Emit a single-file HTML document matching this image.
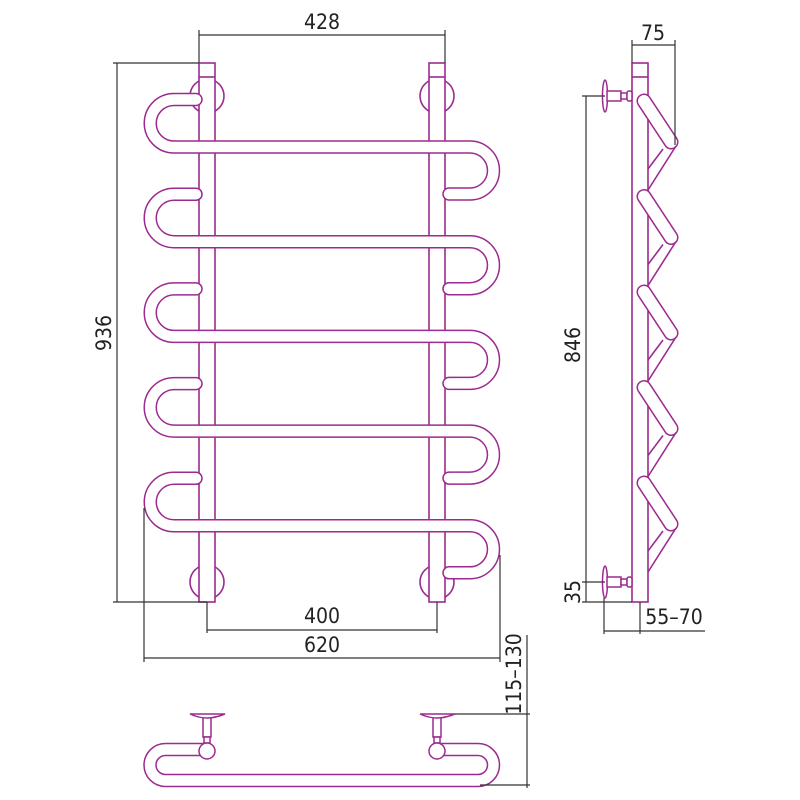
<!DOCTYPE html>
<html><head><meta charset="utf-8"><style>
html,body{margin:0;padding:0;background:#fff;}
svg{display:block;}
text{font-family:"DejaVu Sans Condensed","Liberation Sans",sans-serif;font-size:21px;fill:#222;}
</style></head><body>
<svg width="800" height="800" viewBox="0 0 800 800" xmlns="http://www.w3.org/2000/svg">
<defs>
<g id="loop">
<path d="M196 99.5 H174 A23.75 23.75 0 0 0 174 147 H470 A23.5 23.5 0 0 1 470 194 H449" />
</g>
</defs>
<g fill="none" stroke="#9c2a8f" stroke-width="1.6">
<circle cx="207" cy="96" r="17" fill="#fff"/>
<circle cx="437" cy="96" r="17" fill="#fff"/>
<circle cx="207" cy="582" r="17" fill="#fff"/>
<circle cx="437" cy="582" r="17" fill="#fff"/>
<rect x="199" y="63" width="16" height="539" fill="#fff"/>
<rect x="429" y="63" width="16" height="539" fill="#fff"/>
<line x1="199" y1="77" x2="215" y2="77"/>
<line x1="429" y1="77" x2="445" y2="77"/>
</g>
<g fill="none" stroke-linecap="round" stroke-linejoin="round">
<g stroke="#9c2a8f" stroke-width="13.5">
<use href="#loop"/>
<use href="#loop" transform="translate(0,94.7)"/>
<use href="#loop" transform="translate(0,189.4)"/>
<use href="#loop" transform="translate(0,284.1)"/>
<use href="#loop" transform="translate(0,378.8)"/>
</g>
<g stroke="#fff" stroke-width="10.5">
<use href="#loop"/>
<use href="#loop" transform="translate(0,94.7)"/>
<use href="#loop" transform="translate(0,189.4)"/>
<use href="#loop" transform="translate(0,284.1)"/>
<use href="#loop" transform="translate(0,378.8)"/>
</g>
</g>

<g fill="none" stroke="#9c2a8f" stroke-width="1.6">
<rect x="632" y="63" width="16" height="539" fill="#fff"/>
<line x1="632" y1="77" x2="648" y2="77"/>
</g>
<g id="zig" fill="none">
<line x1="644" y1="101" x2="671" y2="142" stroke="#9c2a8f" stroke-width="15" stroke-linecap="round"/>
<line x1="644" y1="101" x2="671" y2="142" stroke="#fff" stroke-width="12" stroke-linecap="round"/>
<line x1="676" y1="146" x2="648" y2="190" stroke="#9c2a8f" stroke-width="1.6"/>
<line x1="663" y1="149" x2="648" y2="169" stroke="#9c2a8f" stroke-width="1.6"/>
</g>
<use href="#zig" transform="translate(0,95.5)"/>
<use href="#zig" transform="translate(0,191)"/>
<use href="#zig" transform="translate(0,286.5)"/>
<use href="#zig" transform="translate(0,382)"/>
<g fill="#fff" stroke="#9c2a8f" stroke-width="1.5">
<ellipse cx="605" cy="96" rx="2.5" ry="16"/>
<rect x="607" y="91" width="14" height="10"/>
<rect x="621" y="93" width="6" height="6"/>
<rect x="627" y="91" width="5" height="10" rx="2"/>
<ellipse cx="605" cy="582" rx="2.5" ry="16"/>
<rect x="607" y="577" width="14" height="10"/>
<rect x="621" y="579" width="6" height="6"/>
<rect x="627" y="577" width="5" height="10" rx="2"/>
</g>

<g fill="none" stroke-linecap="round">
<path d="M207 749.5 H165.5 A15.5 15.5 0 0 0 165.5 780.5 H478 A15.5 15.5 0 0 0 478 749.5 H437" stroke="#9c2a8f" stroke-width="13.5"/>
<path d="M207 749.5 H165.5 A15.5 15.5 0 0 0 165.5 780.5 H478 A15.5 15.5 0 0 0 478 749.5 H437" stroke="#fff" stroke-width="10.5"/>
</g>
<g fill="#fff" stroke="#9c2a8f" stroke-width="1.5">
<rect x="203" y="717" width="8" height="20"/>
<rect x="204" y="737" width="6" height="6"/>
<circle cx="207" cy="751" r="8"/>
<path d="M190 714 H225 Q215 718 207 718 Q199 718 190 714Z"/>
<rect x="433" y="717" width="8" height="20"/>
<rect x="434" y="737" width="6" height="6"/>
<circle cx="437" cy="751" r="8"/>
<path d="M420 714 H455 Q445 718 437 718 Q429 718 420 714Z"/>
</g>

<g stroke="#333" stroke-width="1.2" fill="none">
<line x1="199" y1="30" x2="199" y2="63"/>
<line x1="445" y1="30" x2="445" y2="63"/>
<line x1="199" y1="35" x2="445" y2="35"/>
<line x1="113" y1="63" x2="199" y2="63"/>
<line x1="113" y1="602" x2="207" y2="602"/>
<line x1="117" y1="63" x2="117" y2="602"/>
<line x1="207" y1="602" x2="207" y2="633"/>
<line x1="437" y1="602" x2="437" y2="633"/>
<line x1="207" y1="630" x2="437" y2="630"/>
<line x1="144" y1="508" x2="144" y2="662"/>
<line x1="500" y1="555" x2="500" y2="662"/>
<line x1="144" y1="658" x2="500" y2="658"/>
<line x1="527" y1="635" x2="527" y2="788"/>
<line x1="455" y1="714" x2="530" y2="714"/>
<line x1="480" y1="785" x2="530" y2="785"/>
<line x1="632" y1="40" x2="632" y2="63"/>
<line x1="675" y1="40" x2="675" y2="145"/>
<line x1="632" y1="45" x2="675" y2="45"/>
<line x1="582" y1="96" x2="605" y2="96"/>
<line x1="586" y1="96" x2="586" y2="602"/>
<line x1="582" y1="582" x2="605" y2="582"/>
<line x1="582" y1="602" x2="632" y2="602"/>
<line x1="604" y1="598" x2="604" y2="634"/>
<line x1="640" y1="602" x2="640" y2="634"/>
<line x1="604" y1="631" x2="705" y2="631"/>
</g>
<g>
<text x="322" y="29" text-anchor="middle">428</text>
<text x="322" y="623" text-anchor="middle">400</text>
<text x="322" y="652" text-anchor="middle">620</text>
<text x="653" y="40" text-anchor="middle">75</text>
<text x="674" y="624" text-anchor="middle">55–70</text>
<text transform="translate(111,333) rotate(-90)" text-anchor="middle">936</text>
<text transform="translate(580,345) rotate(-90)" text-anchor="middle">846</text>
<text transform="translate(580,592) rotate(-90)" text-anchor="middle">35</text>
<text transform="translate(521,674) rotate(-90)" text-anchor="middle">115–130</text>
</g>
</svg>
</body></html>
